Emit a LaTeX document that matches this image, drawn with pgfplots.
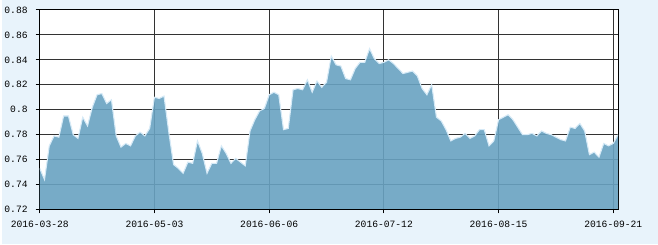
\documentclass[border=0pt]{standalone}
\usepackage{fontspec}
\setmonofont{Liberation Mono}
\usepackage{pgfplots}
\usepackage{pgfplotstable}
\pgfplotsset{compat=1.18}
\definecolor{bgc}{RGB}{232,243,251}
\definecolor{areac}{RGB}{105,162,193}
\definecolor{edgec}{RGB}{214,234,247}
\definecolor{gridc}{RGB}{51,51,51}
\pgfplotstableread{
i v
0 0.753
1 0.744
2 0.771
3 0.779
4 0.778
5 0.795
6 0.795
7 0.780
8 0.777
9 0.794
10 0.787
11 0.802
12 0.812
13 0.813
14 0.805
15 0.808
16 0.779
17 0.770
18 0.773
19 0.771
20 0.779
21 0.782
22 0.779
23 0.785
24 0.810
25 0.809
26 0.811
27 0.782
28 0.756
29 0.753
30 0.749
31 0.758
32 0.757
33 0.775
34 0.765
35 0.749
36 0.757
37 0.757
38 0.771
39 0.765
40 0.757
41 0.761
42 0.758
43 0.755
44 0.783
45 0.792
46 0.799
47 0.801
48 0.812
49 0.814
50 0.812
51 0.784
52 0.785
53 0.816
54 0.817
55 0.816
56 0.824
57 0.814
58 0.823
59 0.818
60 0.822
61 0.843
62 0.836
63 0.835
64 0.825
65 0.824
66 0.833
67 0.838
68 0.838
69 0.849
70 0.841
71 0.837
72 0.838
73 0.840
74 0.837
75 0.833
76 0.829
77 0.830
78 0.831
79 0.827
80 0.817
81 0.812
82 0.820
83 0.794
84 0.791
85 0.784
86 0.775
87 0.777
88 0.778
89 0.781
90 0.777
91 0.779
92 0.784
93 0.784
94 0.771
95 0.775
96 0.792
97 0.794
98 0.796
99 0.792
100 0.786
101 0.780
102 0.780
103 0.781
104 0.779
105 0.783
106 0.781
107 0.780
108 0.778
109 0.776
110 0.775
111 0.786
112 0.785
113 0.789
114 0.783
115 0.764
116 0.766
117 0.762
118 0.773
119 0.771
120 0.773
121 0.780
}\datatable
\begin{document}
\begin{tikzpicture}
\fill[bgc] (-28.7pt,-26.25pt) rectangle (464.8pt,157.5pt);
\begin{axis}[at={(0,0)}, anchor=south west, scale only axis,
  width=434.8pt, height=150pt,
  xmin=0, xmax=121, ymin=0.72, ymax=0.88,
  xtick={0,24,48,72,96,120},
  xticklabels={2016-03-28,2016-05-03,2016-06-06,2016-07-12,2016-08-15,2016-09-21},
  ytick={0.72,0.74,0.76,0.78,0.8,0.82,0.84,0.86,0.88},
  yticklabels={0.72,0.74,0.76,0.78,0.8,0.82,0.84,0.86,0.88},
  grid=major, major grid style={gridc, line width=0.75pt},
  axis line style={black, line width=0.75pt},
  tick pos=left, tick align=outside, major tick length=3pt,
  tick style={black, line width=0.75pt},
  ticklabel style={font=\fontsize{7.25}{8}\selectfont\ttfamily},
  yticklabel style={xshift=-2.6pt},
  xticklabel style={yshift=-2.4pt},
  /pgf/number format/assume math mode=true,
  axis background/.style={fill=white},
]
\addplot[fill=areac, fill opacity=0.9, draw=none] table[x=i,y=v] {\datatable} \closedcycle;
\addplot[edgec, line width=0.8pt] table[x=i,y=v] {\datatable};
\draw[black, line width=0.75pt] (rel axis cs:0,0) rectangle (rel axis cs:1,1);
\end{axis}
\end{tikzpicture}
\end{document}
